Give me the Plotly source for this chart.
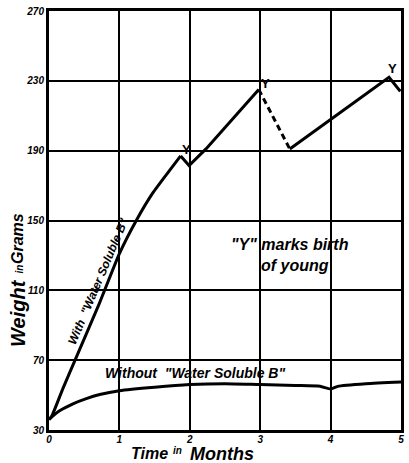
import plotly.graph_objects as go

# ---- data ----
early_t = [0.0, 0.04, 0.2, 0.37, 0.72, 1.0, 1.24, 1.47, 1.7, 1.87]
early_w = [36, 38, 54, 70, 103, 131, 150, 165.5, 178, 187]
mid_t = [1.87, 1.99, 2.23, 2.98]
mid_w = [187, 181.5, 191, 225]
drop_t = [2.98, 3.42]
drop_w = [225, 191]
late_t = [3.42, 4.83, 4.99]
late_w = [191, 232, 224]

without_t = [0.0, 0.04, 0.15, 0.34, 0.53, 0.72, 1.0, 1.5, 2.0, 2.5, 3.0, 3.5, 3.85, 4.0, 4.1, 4.5, 5.0]
without_w = [36, 37.5, 41, 45, 48, 50.3, 52.5, 54.5, 56, 56.5, 56, 55.5, 55, 53.5, 55, 56.5, 57.5]

birth_t = [1.87, 2.98, 4.83]
birth_w = [187, 225, 232]

x_ticks = [0, 1, 2, 3, 4, 5]
y_ticks = [30, 70, 110, 150, 190, 230, 270]

FONT = "Liberation Sans"
fig = go.Figure()
line = dict(color="black", width=3)
fig.add_trace(go.Scatter(x=early_t, y=early_w, mode="lines",
                         line=dict(color="black", width=3, shape="spline", smoothing=0.5),
                         showlegend=False))
fig.add_trace(go.Scatter(x=mid_t, y=mid_w, mode="lines", line=line, showlegend=False))
fig.add_trace(go.Scatter(x=drop_t, y=drop_w, mode="lines",
                         line=dict(color="black", width=3, dash="6px,4px"), showlegend=False))
fig.add_trace(go.Scatter(x=late_t, y=late_w, mode="lines", line=line, showlegend=False))
fig.add_trace(go.Scatter(x=without_t, y=without_w, mode="lines",
                         line=dict(color="black", width=3, shape="spline", smoothing=0.6),
                         showlegend=False))

def bfont(size, italic=True):
    d = dict(family=FONT, size=size, color="black", weight="bold")
    if italic:
        d["style"] = "italic"
    return d

tf = bfont(10)
for t, w, dx, dy in zip(birth_t, birth_w, [6, 7, 3], [6, 6, 9]):
    fig.add_annotation(x=t, y=w, text="Y", showarrow=False, xshift=dx, yshift=dy,
                       font=bfont(13, italic=False))

fig.add_annotation(x=2.08, y=62.5, text='Without  "Water Soluble B"', showarrow=False, font=bfont(14))
fig.add_annotation(x=0.69, y=115, text='With  "Water Soluble B"', showarrow=False, textangle=-67,
                   font=bfont(12))
fig.add_annotation(x=3.42, y=136.3, text='"Y" marks birth', showarrow=False, font=bfont(16))
fig.add_annotation(x=3.5, y=124.5, text='of young', showarrow=False, font=bfont(16))

# axis titles (pixel positions converted to paper fractions)
def px(x):
    return (x - 49) / 355

def py(y):
    return (430 - y) / 425

for txt, x, y, s in [("Time", 150, 454, 16), ("in", 179, 451, 10), ("Months", 223, 454, 18)]:
    fig.add_annotation(xref="paper", yref="paper", x=px(x), y=py(y), xanchor="center", yanchor="middle",
                       text=txt, showarrow=False, font=bfont(s), borderpad=0)
for txt, x, y, s in [("Grams", 17, 236, 16), ("in", 19, 267, 10), ("Weight", 17, 311, 20)]:
    fig.add_annotation(xref="paper", yref="paper", x=px(x), y=py(y), xanchor="center", yanchor="middle",
                       text=txt, showarrow=False, textangle=-90, font=bfont(s), borderpad=0)

axis_common = dict(showline=True, linecolor="black", linewidth=3, mirror=True,
                   showgrid=True, gridcolor="black", gridwidth=2, zeroline=False,
                   ticks="", tickfont=tf)
fig.update_xaxes(range=[0, 5], tickvals=x_ticks, ticktext=[str(v) for v in x_ticks],
                 ticklabelstandoff=-2, **axis_common)
fig.update_yaxes(range=[30, 270], tickvals=y_ticks, ticktext=[str(v) for v in y_ticks], **axis_common)

fig.update_layout(width=409, height=463, margin=dict(l=49, r=5, t=5, b=33),
                  plot_bgcolor="white", paper_bgcolor="white")
fig.write_html("out.html")
